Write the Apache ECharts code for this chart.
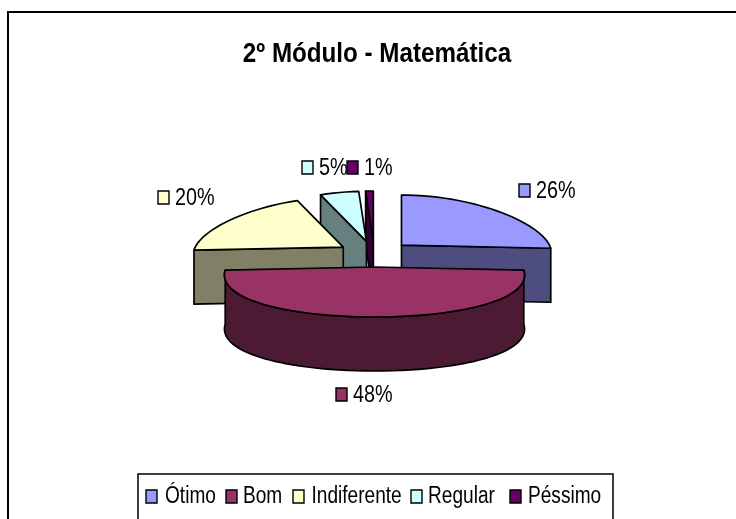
<!DOCTYPE html>
<html><head><meta charset="utf-8">
<style>html,body{margin:0;padding:0;background:#fff;overflow:hidden}#c{width:736px;height:519px}</style>
<script src="https://cdn.jsdelivr.net/npm/echarts@6/dist/echarts.min.js"></script>
</head><body><div id="c"></div>
<script>
const categories = ['Ótimo','Bom','Indiferente','Regular','Péssimo'];
const values = [26,48,20,5,1];
const topColors = ['#9999FF','#993366','#FFFFCC','#CCFFFF','#660066'];
const sideColors = ['#4D4D80','#4D1A33','#808066','#668080','#330033'];
const titleText = '2º Módulo - Matemática';

// Layout (pixels) kept apart from the data
const labelAnchors = [[519,192],[336,396],[158,199],[302,169],[347,169]];
const legendSwatchX = [146,226,293,411,510];
const legendTextX = [165,243,311.5,428,528];
const FONT = '"Liberation Sans", Arial, sans-serif';
const geo = {cx:374.5, cy:254, rx:148, ry:50, depth:54, explodeX:37, explodeY:13, persp:0.17};

const total = values.reduce((a,b)=>a+b,0);
const rad = d => d*Math.PI/180;
const ranges = [];
values.reduce((s,v,i)=>{ const e=s+v/total*360; ranges[i]=[s,e]; return e; },0);

function buildSlice(i, value){
  const [a0,a1] = ranges[i];
  const mid = rad((a0+a1)/2);
  const ox = geo.cx + geo.explodeX*Math.sin(mid);
  const oy = geo.cy - geo.explodeY*Math.cos(mid);
  const pt = (deg,z) => { const t=rad(deg);
    return [ox + geo.rx*Math.sin(t)*(1-geo.persp*Math.cos(t)), oy - geo.ry*Math.cos(t) + z]; };
  const arc = (s,e,z) => { const n=Math.max(2,Math.ceil((e-s)/3)), out=[];
    for(let k=0;k<=n;k++) out.push(pt(s+(e-s)*k/n,z)); return out; };
  const style = c => ({fill:c, stroke:'#000', lineWidth:1.7, lineJoin:'round'});
  const poly = (points,c) => ({type:'polygon', shape:{points}, style:style(c)});
  const children = [];
  const d = geo.depth;
  const quad = a => poly([[ox,oy],pt(a,0),pt(a,d),[ox,oy+d]], sideColors[i]);
  if(a0>180 && a0<360) children.push(quad(a0));
  if(a1>0 && a1<180) children.push(quad(a1));
  const s = Math.max(a0,90), e = Math.min(a1,270);
  if(e-s>10) children.push(poly(arc(s,e,0).concat(arc(s,e,d).reverse()), sideColors[i]));
  children.push(poly([[ox,oy]].concat(arc(a0,a1,0)), topColors[i]));
  const [lx,ly] = labelAnchors[i];
  children.push({type:'rect', z2:20, shape:{x:lx,y:ly-8,width:11,height:13}, style:{fill:topColors[i],stroke:'#000',lineWidth:1.4}});
  children.push({type:'text', z2:20, x:lx+17, y:ly, scaleX:0.86, style:{text:Math.round(value/total*100)+'%',fill:'#000',
    font:'23px '+FONT, textAlign:'left', textVerticalAlign:'middle'}});
  return {type:'group', children};
}
// Painter's order: far slices first, nearest (Bom) last
const drawOrder = [4,3,2,0,1];
const series = drawOrder.map(i => ({
  type:'custom', name:categories[i], coordinateSystem:'none', silent:true,
  itemStyle:{color:topColors[i]},
  data:[[values[i]]],
  renderItem:(p,api)=>buildSlice(i, api.value(0))
}));

const graphics = [
  {type:'rect', z:-1, shape:{x:8,y:12,width:900,height:700}, style:{fill:'none',stroke:'#000',lineWidth:2}},
  {type:'text', z:5, x:377, y:54, scaleX:0.864, style:{text:titleText,fill:'#000',font:'bold 28px '+FONT,textAlign:'center',textVerticalAlign:'middle'}},
  {type:'rect', z:5, shape:{x:138,y:474,width:475,height:80}, style:{fill:'#fff',stroke:'#000',lineWidth:1.5}}
];
categories.forEach((name,i)=>{
  graphics.push({type:'rect', z:6, shape:{x:legendSwatchX[i],y:490,width:11,height:13}, style:{fill:topColors[i],stroke:'#000',lineWidth:1.4}});
  graphics.push({type:'text', z:6, x:legendTextX[i], y:497, scaleX:0.83, style:{text:name,fill:'#000',font:'23px '+FONT,textAlign:'left',textVerticalAlign:'middle'}});
});

const chart = echarts.init(document.getElementById('c'),null,{renderer:'canvas'});
chart.setOption({
  animation:false,
  backgroundColor:'#fff',
  graphic:graphics,
  series
});
</script></body></html>
